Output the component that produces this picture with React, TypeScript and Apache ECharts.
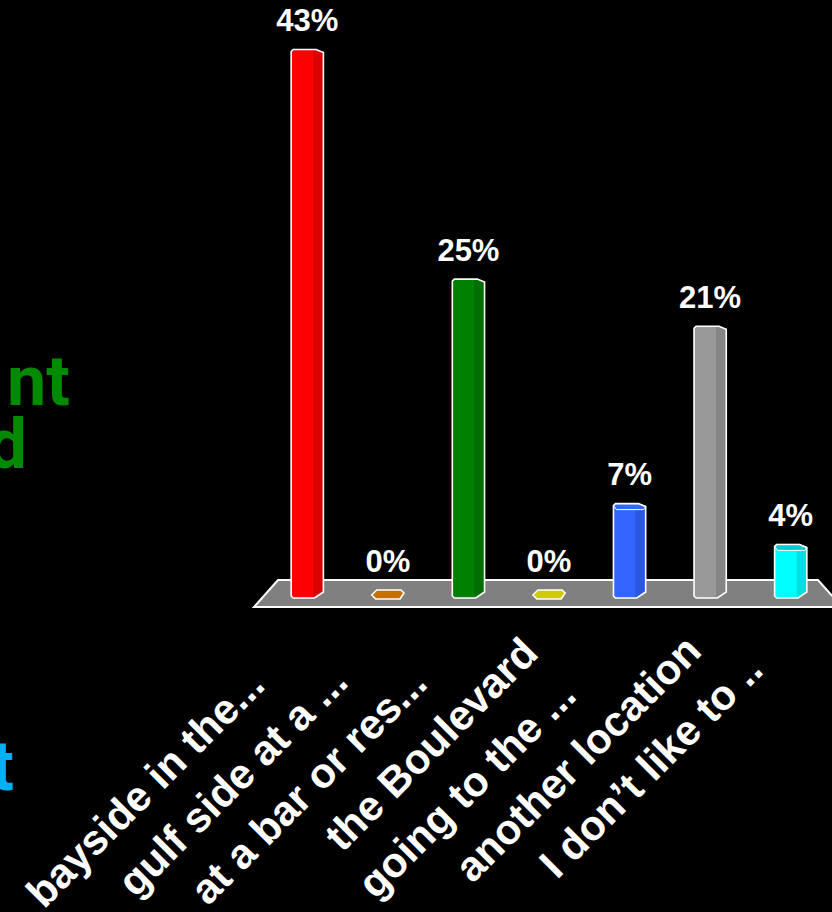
import React, { useEffect, useRef } from "react";
import * as echarts from "echarts";

// ---- data ----
const categories = [
  "bayside in the...",
  "gulf side at a ...",
  "at a bar or res...",
  "the Boulevard",
  "going to the ...",
  "another location",
  "I don’t like to ..",
];
const percentages = [43, 0, 25, 0, 7.4, 21.3, 4.2];
const valueLabels = ["43%", "0%", "25%", "0%", "7%", "21%", "4%"];

// ---- styling ----
const barColors = ["#FF0000", "#C47000", "#008000", "#CCCC00", "#3366FF", "#999999", "#00FFFF"];
const shadeColors = ["#DD0000", "#A86000", "#006E00", "#B0B000", "#2C58E0", "#858585", "#00E0E0"];
const capColors = [null, null, null, null, "#3366FF", null, "#00CCCC"];
const labelInset = [72, 68, 70, 27, 87, 24, 51];

const FONT = "'Liberation Sans', Arial, sans-serif";
const SIDE_FONT = "bold 70px Roboto, 'DejaVu Sans', sans-serif";

export default function App() {
  const ref = useRef<HTMLDivElement>(null);

  useEffect(() => {
    if (!ref.current) return;
    const chart = echarts.init(ref.current, undefined, { renderer: "svg" });

    const floorSeries = {
      type: "custom",
      z: 1,
      silent: true,
      clip: false,
      data: [[0, 0]],
      renderItem: (params: any, api: any) => {
        const cs = params.coordSys;
        const by = api.coord([0, 0])[1];
        const x = cs.x;
        const w = cs.width;
        return {
          type: "polygon",
          shape: {
            points: [
              [x + 11, by - 18],
              [x + w - 13, by - 18],
              [x + w + 11, by + 9],
              [x - 13, by + 9],
            ],
          },
          style: { fill: "#808080", stroke: "#FFFFFF", lineWidth: 2 },
        };
      },
    };

    const barSeries = {
      type: "custom",
      z: 2,
      clip: false,
      data: percentages.map((v, i) => [i, v]),
      renderItem: (params: any, api: any) => {
        const i = api.value(0);
        const v = api.value(1);
        const base = api.coord([i, 0]);
        const top = api.coord([i, v]);
        const cx = base[0];
        const by = base[1];
        const hw = api.size([1, 0])[0] * 0.2;
        const color = barColors[i];
        const shade = shadeColors[i];
        const children: any[] = [];
        let labelY: number;
        if (v > 0) {
          const ty = top[1];
          const outline = [
            [cx - hw, ty + 2],
            [cx - hw + 2, ty],
            [cx + hw * 0.55, ty],
            [cx + hw, ty + 3],
            [cx + hw, by - 6],
            [cx + hw * 0.45, by],
            [cx - hw + 2, by],
            [cx - hw, by - 2],
          ];
          children.push({ type: "polygon", shape: { points: outline }, style: { fill: color } });
          children.push({
            type: "polygon",
            shape: {
              points: [
                [cx + hw * 0.4, ty],
                [cx + hw * 0.55, ty],
                [cx + hw, ty + 3],
                [cx + hw, by - 6],
                [cx + hw * 0.45, by],
                [cx + hw * 0.4, by],
              ],
            },
            style: { fill: shade },
          });
          children.push({
            type: "line",
            shape: { x1: cx + hw * 0.4, y1: ty + 1, x2: cx + hw * 0.4, y2: by - 1 },
            style: { stroke: shade, lineWidth: 1.2, opacity: 0.9 },
          });
          const cap = capColors[i];
          if (cap) {
            children.push({
              type: "polygon",
              shape: {
                points: [
                  [cx - hw, ty + 2],
                  [cx - hw + 2, ty],
                  [cx + hw * 0.55, ty],
                  [cx + hw, ty + 3],
                  [cx + hw - 2, ty + 6],
                  [cx - hw + 3, ty + 6],
                ],
              },
              style: { fill: cap, stroke: "#FFFFFF", lineWidth: 1 },
            });
          }
          children.push({
            type: "polygon",
            shape: { points: outline },
            style: { fill: "none", stroke: "#FFFFFF", lineWidth: 1.6 },
          });
          labelY = ty;
        } else {
          children.push({
            type: "polygon",
            shape: {
              points: [
                [cx - hw, by - 3],
                [cx - hw + 5, by - 8],
                [cx + hw - 3, by - 8],
                [cx + hw, by - 5],
                [cx + hw - 4, by + 1],
                [cx - hw + 4, by + 1],
              ],
            },
            style: { fill: color, stroke: "#FFFFFF", lineWidth: 1.6 },
          });
          labelY = by - 8;
        }
        children.push({
          type: "text",
          style: {
            x: cx,
            y: labelY - 29,
            text: valueLabels[i],
            fill: "#FFFFFF",
            font: `bold 31px ${FONT}`,
            align: "center",
            verticalAlign: "middle",
          },
        });
        return { type: "group", children };
      },
    };

    const sideText = (text: string, x: number, y: number, fill: string) => ({
      type: "text",
      x,
      y,
      silent: true,
      style: {
        text,
        fill,
        font: SIDE_FONT,
        lineHeight: 56,
        align: "right",
        verticalAlign: "middle",
      },
    });

    const option: any = {
      animation: false,
      backgroundColor: "#000000",
      grid: { left: 267, right: 1, top: 24, bottom: 314, containLabel: false, outerBoundsMode: "none" },
      xAxis: {
        type: "category",
        data: categories.map((c, i) => ({
          value: c,
          textStyle: { padding: [0, labelInset[i], 0, 0] },
        })),
        axisLine: { show: false },
        axisTick: { show: false },
        splitLine: { show: false },
        axisLabel: {
          interval: 0,
          rotate: 45,
          margin: 28,
          color: "#FFFFFF",
          fontSize: 42,
          fontWeight: "bold",
          fontFamily: FONT,
          hideOverlap: false,
        },
      },
      yAxis: {
        type: "value",
        min: 0,
        max: 45,
        show: false,
        splitLine: { show: false },
      },
      graphic: [
        sideText("nt", 70, 381, "#008A00"),
        sideText("d", 27, 444, "#008A00"),
        sideText("o", 1, 612, "#3355FF"),
        sideText("t", 14, 766, "#00B0F0"),
      ],
      series: [floorSeries, barSeries],
    };

    chart.setOption(option);
    return () => chart.dispose();
  }, []);

  return (
    <div
      ref={ref}
      style={{ position: "fixed", left: 0, top: 0, width: 832, height: 912, background: "#000" }}
    />
  );
}
